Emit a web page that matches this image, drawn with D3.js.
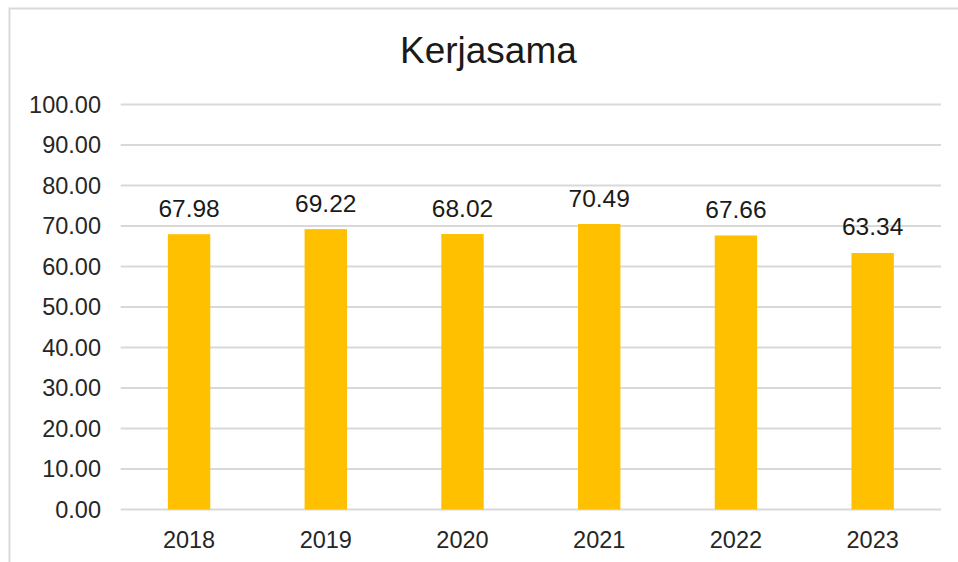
<!DOCTYPE html>
<html>
<head>
<meta charset="utf-8">
<style>
  body { margin: 0; background: #fff; }
  svg { display: block; font-family: "Liberation Sans", Arial, sans-serif; }
</style>
<script src="https://d3js.org/d3.v7.min.js"></script>
</head>
<body>
<script>
// data
const years = ["2018", "2019", "2020", "2021", "2022", "2023"];
const scores = [67.98, 69.22, 68.02, 70.49, 67.66, 63.34];
const yTicks = [0, 10, 20, 30, 40, 50, 60, 70, 80, 90, 100];
const title = "Kerjasama";

const width = 958, height = 562;
const svg = d3.select("body").append("svg")
  .attr("width", width)
  .attr("height", height);

// outer chart frame (runs off right/bottom edge)
svg.append("rect")
  .attr("x", 9.5).attr("y", 8.5)
  .attr("width", 970).attr("height", 570)
  .attr("fill", "#fff")
  .attr("stroke", "#d9d9d9")
  .attr("stroke-width", 2);

const plot = { left: 120.7, right: 941, top: 104.5, bottom: 509.5 };

const x = d3.scaleBand()
  .domain(years)
  .range([plot.left, plot.right])
  .paddingInner(0.69)
  .paddingOuter(0.345);

const y = d3.scaleLinear()
  .domain([0, 100])
  .range([plot.bottom, plot.top]);

// gridlines
svg.append("g")
  .selectAll("line")
  .data(yTicks)
  .join("line")
  .attr("x1", plot.left).attr("x2", plot.right)
  .attr("y1", d => y(d)).attr("y2", d => y(d))
  .attr("stroke", "#d9d9d9")
  .attr("stroke-width", 2);

// y tick labels
svg.append("g")
  .selectAll("text")
  .data(yTicks)
  .join("text")
  .attr("x", 101)
  .attr("y", d => y(d))
  .attr("dy", "0.36em")
  .attr("text-anchor", "end")
  .attr("font-size", 23.5)
  .attr("fill", "#262626")
  .text(d => d.toFixed(2));

// bars
svg.append("g")
  .selectAll("rect")
  .data(scores)
  .join("rect")
  .attr("x", (d, i) => x(years[i]))
  .attr("y", d => y(d))
  .attr("width", x.bandwidth())
  .attr("height", d => y(0) - y(d))
  .attr("fill", "#ffc000");

// value labels
svg.append("g")
  .selectAll("text")
  .data(scores)
  .join("text")
  .attr("x", (d, i) => x(years[i]) + x.bandwidth() / 2)
  .attr("y", d => y(d) - 17.5)
  .attr("text-anchor", "middle")
  .attr("font-size", 24.5)
  .attr("fill", "#1a1a1a")
  .text(d => d.toFixed(2));

// x labels
svg.append("g")
  .selectAll("text")
  .data(years)
  .join("text")
  .attr("x", d => x(d) + x.bandwidth() / 2)
  .attr("y", 547.5)
  .attr("text-anchor", "middle")
  .attr("font-size", 23.5)
  .attr("fill", "#262626")
  .text(d => d);

// title
svg.append("text")
  .attr("x", 488.4)
  .attr("y", 62.7)
  .attr("text-anchor", "middle")
  .attr("font-size", 37)
  .attr("fill", "#1a1a1a")
  .text(title);
</script>
</body>
</html>
